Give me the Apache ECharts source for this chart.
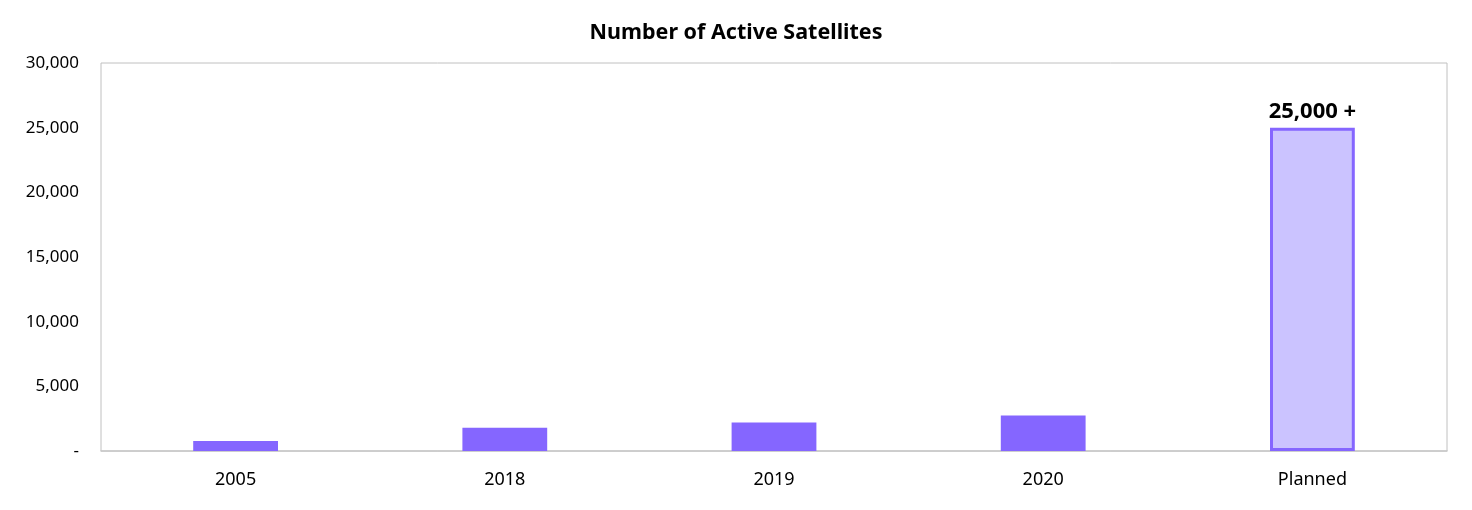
<!DOCTYPE html>
<html>
<head>
<meta charset="utf-8">
<script src="https://cdn.jsdelivr.net/npm/echarts@6/dist/echarts.min.js"></script>
<style>html,body{margin:0;padding:0;background:#fff}#c{width:1472px;height:510px}</style>
</head>
<body>
<div id="c"></div>
<script>
const categories = ['2005', '2018', '2019', '2020', 'Planned'];
const values = [780, 1800, 2200, 2750, 25000];
const yTicks = [0, 5000, 10000, 15000, 20000, 25000, 30000];
const titleText = 'Number of Active Satellites';
const plannedLabel = '25,000 +';

const font = '"Noto Sans", "Open Sans", sans-serif';
const chart = echarts.init(document.getElementById('c'));
chart.setOption({
  animation: false,
  title: {
    text: titleText, left: 'center', top: 17,
    textStyle: { fontFamily: font, fontWeight: 'bold', fontSize: 21.5, color: '#000' }
  },
  grid: { left: 101, right: 25, top: 63, bottom: 59, show: true, borderColor: '#c0c0c0', borderWidth: 1, containLabel: false },
  xAxis: {
    type: 'category', data: categories,
    axisLine: { show: true, lineStyle: { color: '#c8c8c8', width: 1.5 } },
    axisTick: { show: false },
    axisLabel: { fontFamily: font, fontSize: 18, color: '#000', margin: 20 }
  },
  yAxis: {
    type: 'value', min: 0, max: yTicks[yTicks.length - 1], interval: 5000,
    splitLine: { show: false },
    axisLine: { show: false }, axisTick: { show: false },
    axisLabel: {
      fontFamily: font, fontSize: 17, color: '#000', margin: 22,
      formatter: v => v === 0 ? '-' : v.toLocaleString('en-US')
    }
  },
  series: [{
    type: 'bar',
    barWidth: '31.5%',
    data: values.map((v, i) => {
      if (categories[i] === 'Planned') {
        return {
          value: v,
          itemStyle: { color: '#cbc3ff', borderColor: '#8566ff', borderWidth: 3 },
          label: {
            show: true, position: 'top', distance: 5, formatter: plannedLabel,
            fontFamily: font, fontWeight: 'bold', fontSize: 22, color: '#000'
          }
        };
      }
      return { value: v, itemStyle: { color: '#8566ff' } };
    })
  }]
});
</script>
</body>
</html>
